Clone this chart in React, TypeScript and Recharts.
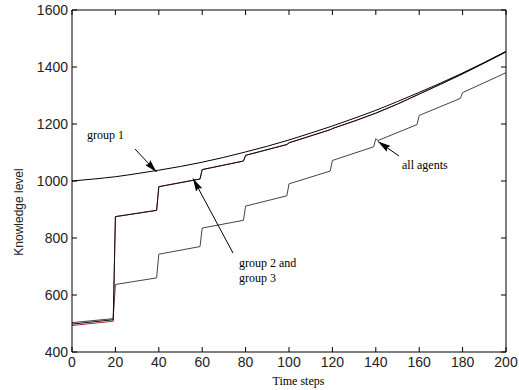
import React from 'react';
import { LineChart, Line, XAxis, YAxis, ReferenceLine } from 'recharts';

const xTicks = [0, 20, 40, 60, 80, 100, 120, 140, 160, 180, 200];
const yTicks = [400, 600, 800, 1000, 1200, 1400, 1600];

const group1T = [0, 10, 20, 30, 40, 50, 60, 70, 80, 90, 100, 110, 120, 130, 140, 150, 160, 170, 180, 190, 200];
const group1V = [1000, 1007, 1015, 1026, 1038, 1051, 1066, 1083, 1102, 1122, 1144, 1168, 1193, 1220, 1248, 1279, 1311, 1344, 1379, 1416, 1455];

const groupT = [0, 19, 20, 39, 40, 59, 60, 79, 80, 99, 100, 119, 120, 130, 140, 150, 160, 170, 180, 190, 200];
const group2V = [493, 508, 875, 897, 980, 1007, 1040, 1070, 1090, 1128, 1134, 1180, 1184, 1210, 1238, 1270, 1305, 1340, 1376, 1414, 1453];
const group3V = [498, 513, 875, 897, 980, 1007, 1040, 1070, 1090, 1128, 1134, 1180, 1184, 1210, 1238, 1270, 1305, 1340, 1376, 1414, 1453];

const allT = [0, 19, 20, 39, 40, 59, 60, 79, 80, 99, 100, 119, 120, 139, 140, 141, 159, 160, 179, 180, 200];
const allV = [503, 517, 637, 660, 743, 770, 835, 862, 912, 948, 990, 1035, 1072, 1120, 1148, 1142, 1198, 1230, 1290, 1310, 1380];

const g1 = group1T.map((t, i) => ({ t, v: group1V[i] }));
const g2 = groupT.map((t, i) => ({ t, v: group2V[i] }));
const g3 = groupT.map((t, i) => ({ t, v: group3V[i] }));
const ga = allT.map((t, i) => ({ t, v: allV[i] }));

const tickFont = { fill: '#222', fontSize: 14, fontFamily: 'Liberation Sans, Arial, sans-serif' };

const X0 = xTicks[0], X1 = xTicks[xTicks.length - 1];
const Y0 = yTicks[0], Y1 = yTicks[yTicks.length - 1];
// inward tick length in data units (about 5px)
const TICK_Y = 17.5;
const TICK_X = 2.3;

export default function App() {
  return (
    <div style={{ position: 'absolute', left: 0, top: 0, width: 519, height: 390, background: '#fff' }}>
      <LineChart width={519} height={390} margin={{ top: 10, right: 13, bottom: 0, left: 0 }}>
        <XAxis dataKey="t" type="number" domain={[X0, X1]} ticks={xTicks} interval={0}
          tickSize={-5} tickMargin={10} height={38}
          axisLine={{ stroke: '#000' }} tickLine={{ stroke: '#000' }} tick={tickFont} />
        <YAxis type="number" domain={[Y0, Y1]} ticks={yTicks} interval={0}
          width={72} tickSize={-5} tickMargin={9}
          axisLine={{ stroke: '#000' }} tickLine={{ stroke: '#000' }} tick={tickFont} />
        <Line data={ga} dataKey="v" type="linear" stroke="#444" strokeWidth={1} dot={false} isAnimationActive={false} />
        <Line data={g2} dataKey="v" type="linear" stroke="#b03030" strokeWidth={1} dot={false} isAnimationActive={false} />
        <Line data={g3} dataKey="v" type="linear" stroke="#111" strokeWidth={1} dot={false} isAnimationActive={false} />
        <Line data={g1} dataKey="v" type="monotone" stroke="#000" strokeWidth={1} dot={false} isAnimationActive={false} />
        <ReferenceLine y={Y1} stroke="#000" strokeWidth={1} ifOverflow="visible" />
        <ReferenceLine x={X1} stroke="#000" strokeWidth={1} ifOverflow="visible" />
        {xTicks.map((v) => (
          <ReferenceLine key={'tx' + v} segment={[{ x: v, y: Y1 }, { x: v, y: Y1 - TICK_Y }]} stroke="#000" strokeWidth={1} ifOverflow="visible" />
        ))}
        {yTicks.map((v) => (
          <ReferenceLine key={'ry' + v} segment={[{ x: X1, y: v }, { x: X1 - TICK_X, y: v }]} stroke="#000" strokeWidth={1} ifOverflow="visible" />
        ))}
      </LineChart>
      <svg width={519} height={390} style={{ position: 'absolute', left: 0, top: 0, pointerEvents: 'none' }}>
        <defs>
          <marker id="ah" viewBox="0 0 13 7" refX="13" refY="3.5" markerWidth="13" markerHeight="7" markerUnits="userSpaceOnUse" orient="auto">
            <path d="M0,0 L13,3.5 L0,7 L2,3.5 z" fill="#000" />
          </marker>
        </defs>
        <line x1={135} y1={149} x2={156.5} y2={172} stroke="#000" strokeWidth={1} markerEnd="url(#ah)" />
        <line x1={233} y1={253} x2={193} y2={178.5} stroke="#000" strokeWidth={1} markerEnd="url(#ah)" />
        <line x1={399} y1={156} x2={378} y2={141.5} stroke="#000" strokeWidth={1} markerEnd="url(#ah)" />
        <g fontFamily="Liberation Serif, Times New Roman, serif" fontSize={12} fill="#000">
          <text x={87} y={139}>group 1</text>
          <text x={239} y={267}>group 2 and</text>
          <text x={239} y={282}>group 3</text>
          <text x={402} y={169}>all agents</text>
          <text x={298.5} y={385} textAnchor="middle">Time steps</text>
        </g>
        <text transform="translate(19,212) rotate(-90)" textAnchor="middle" dominantBaseline="central"
          fontFamily="Liberation Sans, Arial, sans-serif" fontSize={12} fill="#222">Knowledge level</text>
      </svg>
    </div>
  );
}
